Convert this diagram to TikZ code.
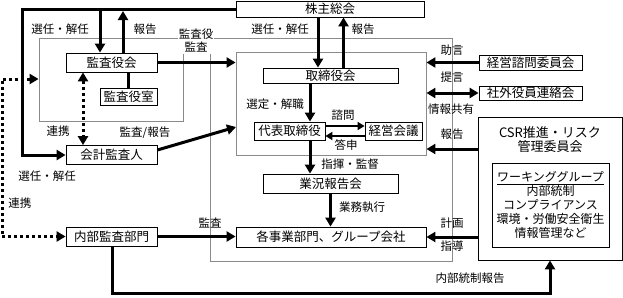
\documentclass[tikz,border=0pt]{standalone}
\usepackage{fontspec}
\setmainfont{Noto Sans CJK JP}
\usepackage{tikz}
\usepackage{xcolor}
\usetikzlibrary{arrows.meta,positioning,calc}
\newcommand{\boxfont}{\fontsize{12.5}{14}\selectfont}
\newcommand{\notefont}{\fontsize{11.5}{13}\selectfont}
\definecolor{orgink}{HTML}{000000}
\definecolor{orggray}{HTML}{8A8A8A}
\tikzset{
  orgBox/.style={draw=orgink, fill=white, line width=0.8pt, inner sep=0pt, font=\boxfont},
  groupFrame/.style={draw=orggray, line width=0.9pt, inner sep=0pt},
  mainArrow/.style={-{Triangle[length=9pt,width=10pt]}, line width=3pt, draw=orgink},
  mainLine/.style={line width=3pt, draw=orgink},
  thinArrow/.style={-{Triangle[length=7pt,width=8pt]}, line width=2.2pt, draw=orgink},
  bothArrow/.style={{Triangle[length=9pt,width=10pt]}-{Triangle[length=9pt,width=10pt]}, line width=3pt, draw=orgink},
  linkArrow/.style={{Triangle[length=9pt,width=10pt]}-{Triangle[length=9pt,width=10pt]}, line width=3pt, dash pattern=on 3pt off 3pt, draw=orgink},
  linkLine/.style={-{Triangle[length=9pt,width=10pt]}, line width=3pt, dash pattern=on 3pt off 3pt, draw=orgink},
  noteLabel/.style={font=\notefont, inner sep=1pt, align=center}
}

\begin{document}
\begin{tikzpicture}[x=1pt,y=-1pt]
  \useasboundingbox (0,0) rectangle (623,297);

  % frames
  \node[groupFrame, minimum width=144pt, minimum height=83pt] (auditFrame) at (111,79.5) {};
  \node[groupFrame, minimum width=242pt, minimum height=223pt] (bigFrame) at (331,149.5) {};
  \node[groupFrame, minimum width=190pt, minimum height=103pt] (boardFrame) at (331,103.5) {};
  \node[noteLabel, fill=white] (auditNote) at (196,41) {監査役\\監査};

  % boxes
  \node[orgBox, minimum width=188pt, minimum height=16pt] (kabunushi) at (330,9) {株主総会};
  \node[orgBox, minimum width=91pt, minimum height=19pt] (kansayakukai) at (111.5,62.5) {監査役会};
  \node[orgBox, minimum width=57pt, minimum height=17pt] (kansashitsu) at (128.5,96.5) {監査役室};
  \node[orgBox, minimum width=91pt, minimum height=19pt] (kaikei) at (111.5,155) {会計監査人};
  \node[orgBox, minimum width=91pt, minimum height=19pt] (naibu) at (111.5,236.5) {内部監査部門};
  \node[orgBox, minimum width=135pt, minimum height=15pt] (torikai) at (330.5,75.5) {取締役会};
  \node[orgBox, minimum width=71pt, minimum height=18pt] (daihyo) at (289.5,131) {代表取締役};
  \node[orgBox, minimum width=57pt, minimum height=18pt] (keiei) at (393.5,131) {経営会議};
  \node[orgBox, minimum width=135pt, minimum height=19pt] (gyokyo) at (330.5,183.5) {業況報告会};
  \node[orgBox, minimum width=190pt, minimum height=20pt] (jigyo) at (331,237) {各事業部門、グループ会社};
  \node[orgBox, minimum width=103pt, minimum height=15pt] (shimon) at (530.5,62.5) {経営諮問委員会};
  \node[orgBox, minimum width=103pt, minimum height=14pt] (shagai) at (530.5,93) {社外役員連絡会};
  \node[orgBox, minimum width=144pt, minimum height=143pt] (csr) at (550,188.5) {};
  \node[font=\fontsize{13}{14}\selectfont, align=center, inner sep=0pt] (csrTitle) at (550,140) {CSR推進・リスク\\管理委員会};
  \node[orgBox, minimum width=117pt, minimum height=84pt, align=center, font=\fontsize{12}{14}\selectfont] (wg) at (550.5,205)
    {\underline{ワーキンググループ}\\内部統制\\コンプライアンス\\環境・労働安全衛生\\情報管理など};

  % audit side
  \coordinate (topLeft) at (22,9);
  \coordinate (selAudit) at (100,9);
  \coordinate (repAudit) at (123,11);
  \draw[mainArrow] (kabunushi.west) -- (topLeft) |- (kaikei.west);
  \draw[mainArrow] (selAudit) -- (selAudit |- kansayakukai.north);
  \draw[mainArrow] (repAudit |- kansayakukai.north) -- (repAudit);
  \draw[mainLine] (kansashitsu.north) -- (kansashitsu.north |- kansayakukai.south);
  \draw[linkArrow] ([xshift=-28.5pt]kansayakukai.south) -- ([xshift=-28.5pt]kaikei.north);
  \draw[mainArrow] (kansayakukai.east) -- (boardFrame.west |- kansayakukai.east);
  \coordinate (auditIn) at (236,127);
  \draw[mainArrow] ([yshift=5pt]kaikei.east) -- (auditIn);
  \coordinate (linkTop) at (2,79);
  \draw[linkArrow] (auditFrame.west |- linkTop) -- (linkTop) -- (linkTop |- naibu.west) -- (naibu.west);
  \draw[mainArrow] (naibu.east) -- (naibu.east -| jigyo.west);
  \coordinate (ctrlBot) at (112,293);
  \draw[mainArrow] (naibu.south -| ctrlBot) -- (ctrlBot) -| (csr.south);

  \node[noteLabel] at (60,29) {選任・解任};
  \node[noteLabel] at (145,29) {報告};
  \node[noteLabel] at (58,131) {連携};
  \node[noteLabel] at (145,133) {監査/報告};
  \node[noteLabel] at (47,176) {選任・解任};
  \node[noteLabel] at (20,203) {連携};
  \node[noteLabel] at (210,223) {監査};
  \node[noteLabel] at (470,278) {内部統制報告};

  % board side
  \coordinate (cmdLine) at (310,0);
  \draw[mainArrow] ([xshift=-12pt]kabunushi.south) -- ([xshift=-12pt]kabunushi.south |- torikai.north);
  \draw[mainArrow] ([xshift=13pt]torikai.north) -- ([xshift=13pt]torikai.north |- kabunushi.south);
  \draw[mainArrow] (cmdLine |- torikai.south) -- (cmdLine |- daihyo.north);
  \draw[thinArrow] ([yshift=5pt]daihyo.east) -- ([yshift=5pt]keiei.west);
  \draw[thinArrow] ([yshift=-5pt]keiei.west) -- ([yshift=-5pt]daihyo.east);
  \draw[mainArrow] (cmdLine |- daihyo.south) -- (cmdLine |- gyokyo.north);
  \draw[mainArrow] (gyokyo.south) -- (gyokyo.south |- jigyo.north);

  \node[noteLabel] at (280,29) {選任・解任};
  \node[noteLabel] at (363,29) {報告};
  \node[noteLabel] at (275,104) {選定・解職};
  \node[noteLabel] at (343,115) {諮問};
  \node[noteLabel] at (346,145) {答申};
  \node[noteLabel] at (350,164) {指揮・監督};
  \node[noteLabel] at (362,207) {業務執行};

  % right side
  \coordinate (csrReport) at (452,149);
  \draw[mainArrow] (shimon.west) -- (shimon.west -| boardFrame.east);
  \draw[bothArrow] (shagai.west) -- (shagai.west -| boardFrame.east);
  \draw[mainArrow] (csr.west |- csrReport) -- (boardFrame.east |- csrReport);
  \draw[mainArrow] (csr.west |- jigyo.east) -- (jigyo.east);

  \node[noteLabel] at (452,50) {助言};
  \node[noteLabel] at (452,77) {提言};
  \node[noteLabel] at (451,109) {情報共有};
  \node[noteLabel] at (452,134) {報告};
  \node[noteLabel] at (452,223) {計画};
  \node[noteLabel] at (452,246) {指導};
\end{tikzpicture}
\end{document}
